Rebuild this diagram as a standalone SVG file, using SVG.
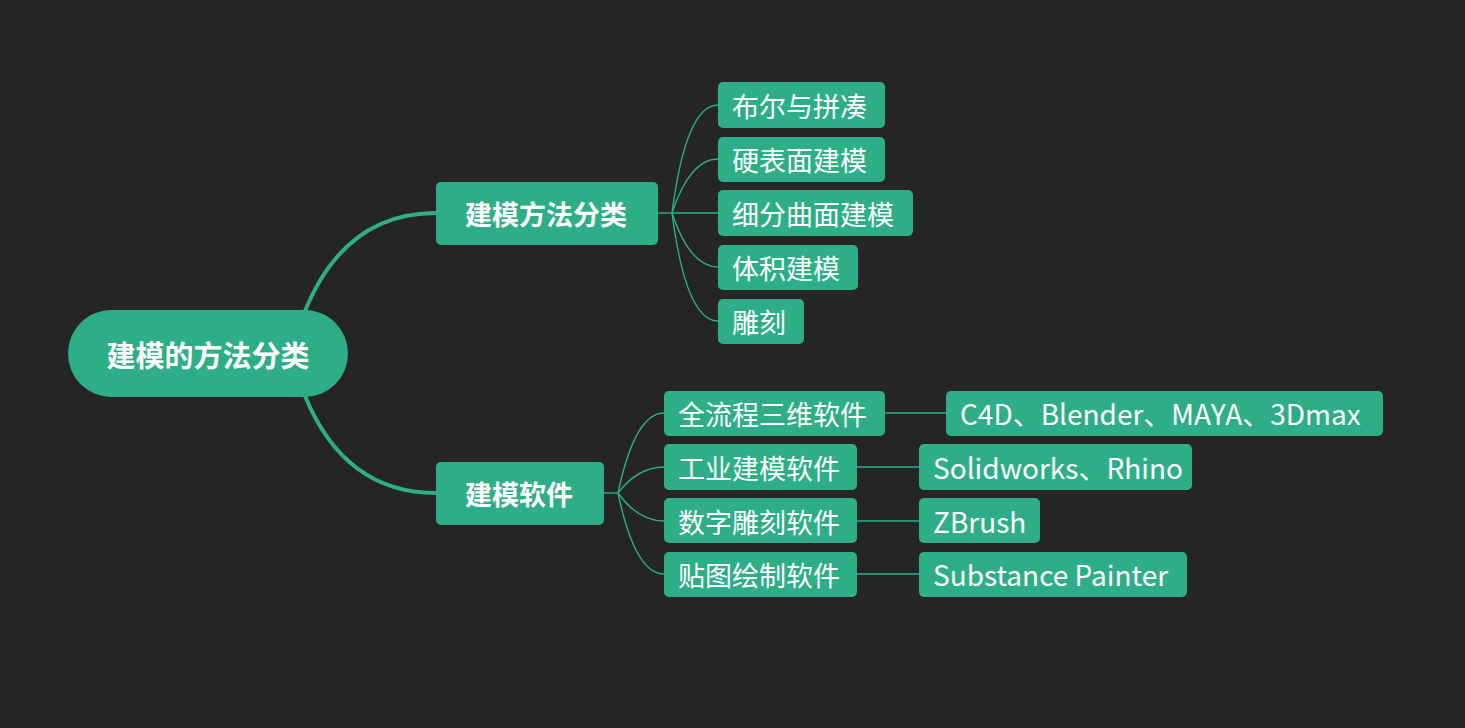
<svg xmlns="http://www.w3.org/2000/svg" width="1465" height="728" viewBox="0 0 1465 728">
<style>
.bg{fill:#252525}
.n rect{fill:#2eae87}
.t{fill:#ffffff;font-family:"Noto Sans CJK SC","Microsoft YaHei",sans-serif;font-size:27px;dominant-baseline:central}
.l{font-size:28px}
.r{font-size:29px}
.b{font-weight:bold}
.thick{fill:none;stroke:#2eae87;stroke-width:4;stroke-linecap:round}
.thin{fill:none;stroke:#2eae87;stroke-width:1.4}
</style>
<rect class="bg" x="0" y="0" width="1465" height="728"/>
<g id="connectors">
<path class="thick" d="M305,311 Q345,213 436,213"/>
<path class="thick" d="M305,396 Q345,493 436,493"/>
<path class="thin" d="M658,213 L672,213"/>
<path class="thin" d="M672,213 Q686,105 718,105"/>
<path class="thin" d="M672,213 Q690,159 718,159"/>
<path class="thin" d="M672,213 L718,213"/>
<path class="thin" d="M672,213 Q690,267 718,267"/>
<path class="thin" d="M672,213 Q686,321 718,321"/>
<path class="thin" d="M604,493 L618,493"/>
<path class="thin" d="M618,493 Q635,413 664,413"/>
<path class="thin" d="M618,493 Q638,467 664,467"/>
<path class="thin" d="M618,493 Q638,521 664,521"/>
<path class="thin" d="M618,493 Q635,574 664,574"/>
<path class="thin" d="M885,413 L946,413"/>
<path class="thin" d="M857,467 L919,467"/>
<path class="thin" d="M857,521 L919,521"/>
<path class="thin" d="M857,574 L919,574"/>
</g>
<g id="root" class="n"><rect x="68" y="310" width="280" height="87" rx="43.5"/><text class="t b r" x="208" y="354" text-anchor="middle">建模的方法分类</text></g>
<g id="n1" class="n"><rect x="436" y="182" width="222" height="63" rx="5"/><text class="t b" x="546" y="213" text-anchor="middle">建模方法分类</text></g>
<g id="n2" class="n"><rect x="436" y="462" width="168" height="63" rx="5"/><text class="t b" x="519" y="493" text-anchor="middle">建模软件</text></g>
<g id="n11" class="n"><rect x="718" y="82" width="167" height="46" rx="5"/><text class="t" x="732" y="105">布尔与拼凑</text></g>
<g id="n12" class="n"><rect x="718" y="137" width="167" height="45" rx="5"/><text class="t" x="732" y="159">硬表面建模</text></g>
<g id="n13" class="n"><rect x="718" y="190" width="195" height="46" rx="5"/><text class="t" x="732" y="213">细分曲面建模</text></g>
<g id="n14" class="n"><rect x="718" y="245" width="140" height="45" rx="5"/><text class="t" x="732" y="267">体积建模</text></g>
<g id="n15" class="n"><rect x="718" y="299" width="86" height="45" rx="5"/><text class="t" x="732" y="321">雕刻</text></g>
<g id="n21" class="n"><rect x="664" y="391" width="221" height="45" rx="5"/><text class="t" x="678" y="413">全流程三维软件</text></g>
<g id="n22" class="n"><rect x="664" y="444" width="193" height="46" rx="5"/><text class="t" x="678" y="467">工业建模软件</text></g>
<g id="n23" class="n"><rect x="664" y="498" width="193" height="45" rx="5"/><text class="t" x="678" y="521">数字雕刻软件</text></g>
<g id="n24" class="n"><rect x="664" y="552" width="193" height="45" rx="5"/><text class="t" x="678" y="574">贴图绘制软件</text></g>
<g id="n211" class="n"><rect x="946" y="391" width="437" height="45" rx="5"/><text class="t l" x="960" y="413">C4D、Blender、MAYA、3Dmax</text></g>
<g id="n221" class="n"><rect x="919" y="444" width="273" height="46" rx="5"/><text class="t l" x="933" y="467">Solidworks、Rhino</text></g>
<g id="n231" class="n"><rect x="919" y="498" width="121" height="45" rx="5"/><text class="t l" x="933" y="521">ZBrush</text></g>
<g id="n241" class="n"><rect x="919" y="552" width="268" height="45" rx="5"/><text class="t l" x="933" y="574">Substance Painter</text></g>
</svg>
